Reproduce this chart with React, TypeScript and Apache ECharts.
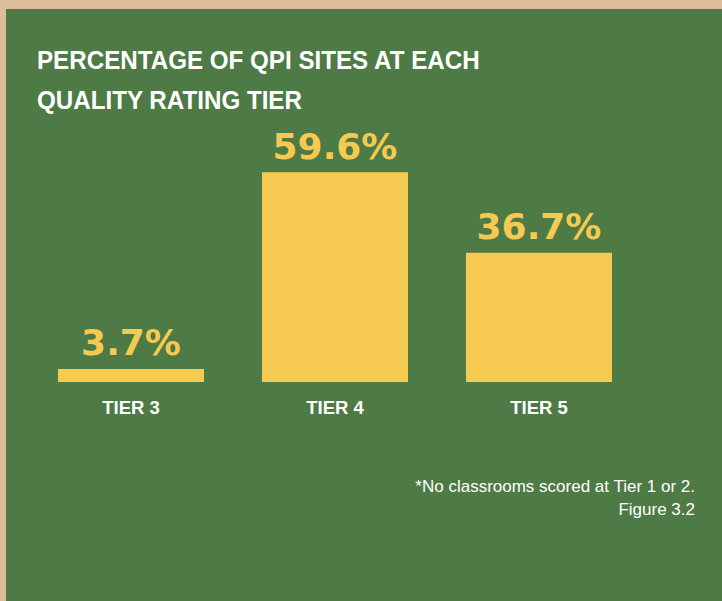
import React, { useEffect, useRef } from "react";
import * as echarts from "echarts";

const categories = ["TIER 3", "TIER 4", "TIER 5"];
const values = [3.7, 59.6, 36.7];
const titleLines = ["PERCENTAGE OF QPI SITES AT EACH", "QUALITY RATING TIER"];
const footnotes = ["*No classrooms scored at Tier 1 or 2.", "Figure 3.2"];

const GREEN = "#4e7a45";
const TAN = "#dcbd9a";
const YELLOW = "#f6ca50";

export default function App() {
  const ref = useRef<HTMLDivElement>(null);
  useEffect(() => {
    document.body.style.margin = "0";
    const chart = echarts.init(ref.current!, undefined, { renderer: "svg" });
    chart.setOption({
      animation: false,
      backgroundColor: TAN,
      graphic: [
        { type: "rect", z: -10, shape: { x: 6, y: 9, width: 716, height: 592 }, style: { fill: GREEN } },
        {
          type: "text", x: 37, y: 60, scaleX: 0.912,
          style: { text: titleLines[0], fill: "#ffffff", font: "bold 26.5px 'Liberation Sans', Arial, sans-serif", verticalAlign: "middle", align: "left" },
        },
        {
          type: "text", x: 37, y: 99.5, scaleX: 0.912,
          style: { text: titleLines[1], fill: "#ffffff", font: "bold 26.5px 'Liberation Sans', Arial, sans-serif", verticalAlign: "middle", align: "left" },
        },
        {
          type: "text", x: 695, y: 486.5,
          style: { text: footnotes[0], fill: "#ffffff", font: "17px 'Liberation Sans', Arial, sans-serif", verticalAlign: "middle", align: "right" },
        },
        {
          type: "text", x: 695, y: 509.5,
          style: { text: footnotes[1], fill: "#ffffff", font: "17px 'Liberation Sans', Arial, sans-serif", verticalAlign: "middle", align: "right" },
        },
      ],
      grid: { left: 29, width: 612, top: 30, bottom: 219, containLabel: false },
      xAxis: {
        type: "category",
        data: categories,
        axisLine: { show: false },
        axisTick: { show: false },
        axisLabel: {
          color: "#ffffff",
          fontFamily: "'Liberation Sans', Arial, sans-serif",
          fontWeight: "bold",
          fontSize: 18.5,
          margin: 16,
        },
      },
      yAxis: { type: "value", min: 0, max: 100, show: false, splitLine: { show: false } },
      series: [
        {
          type: "bar",
          data: values,
          barWidth: 146,
          itemStyle: { color: YELLOW },
          label: {
            show: true,
            position: "top",
            distance: 8,
            formatter: (p: any) => p.value + "%",
            color: YELLOW,
            fontFamily: "'DejaVu Sans', sans-serif",
            fontWeight: "bold",
            fontSize: 36,
          },
        },
      ],
    });
    return () => chart.dispose();
  }, []);
  return <div ref={ref} style={{ width: 722, height: 601 }} />;
}
